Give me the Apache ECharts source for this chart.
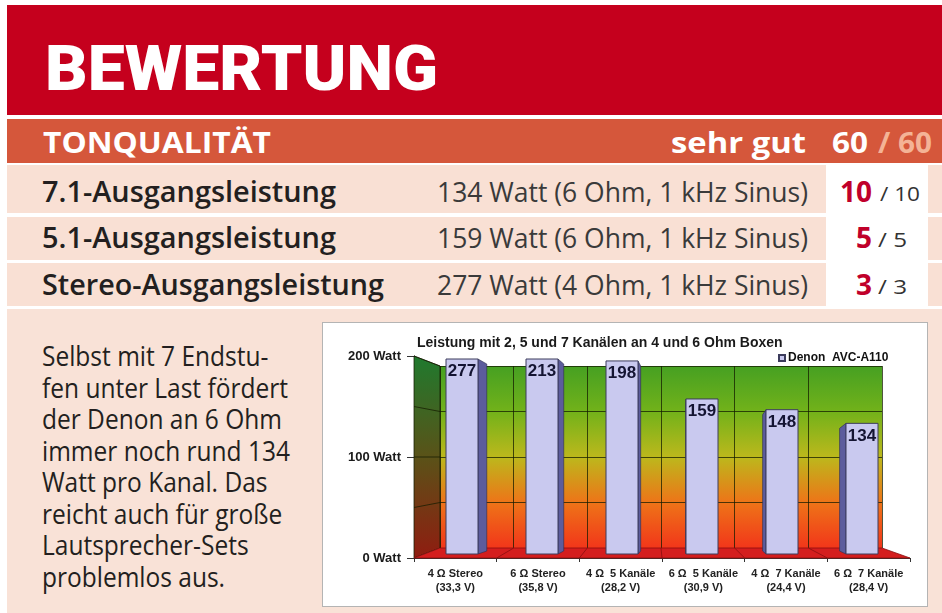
<html>
  <head>
    <meta charset="utf-8">
    <script src="https://cdn.jsdelivr.net/npm/echarts@6.0.0/dist/echarts.min.js"></script>
    <style>
      body { margin: 0; width: 942px; height: 613px; background: #fff; position: relative; overflow: hidden;
             font-family: "Open Sans", sans-serif; }
      .box { position: absolute; }
      .t { position: absolute; white-space: nowrap; line-height: 1; transform-origin: left top; }
      .head { left: 7px; top: 5px; width: 935px; height: 110px; background: #c5001d; }
      .band { left: 7px; top: 119px; width: 935px; height: 44px; background: #d5573b; }
      .row { left: 7px; width: 935px; background: #f9e0d4; }
      .score { left: 826px; width: 102px; background: #fff; }
      .bottom { left: 7px; top: 309px; width: 935px; height: 304px; background: #f9e2d7; }
      .lbl { font-size: 28px; font-weight: 600; color: #231f20; }
      .val { font-size: 27px; font-weight: 400; color: #3a3a3a; }
      .big { font-size: 28px; font-weight: 700; color: #c0002a; }
      .small { font-size: 20px; font-weight: 400; color: #333; }
      .chart { position: absolute; left: 322px; top: 322px; width: 606px; height: 285px;
               background: #fff; border: 1px solid #b4b4b4; box-sizing: border-box; }
      #text { left: 42px; top: 340px; font-size: 28px; line-height: 31.5px; color: #231f20; white-space: nowrap; }
    </style>
  </head>
  <body>
    <div class="box head"></div>
    <div class="t" data-w="393" style="left:45px; top:37px; font-family:Roboto; font-weight:900; font-size:63px; color:#fff;">BEWERTUNG</div>

    <div class="box band"></div>
    <div class="t" data-w="228" style="left:43px; top:127px; font-size:29px; font-weight:700; color:#fff;">TONQUALITÄT</div>
    <div class="t" data-w="135" style="left:671px; top:127px; font-size:29px; font-weight:700; color:#fff;">sehr gut</div>
    <div class="t" data-w="36" style="left:832px; top:127px; font-size:29px; font-weight:700; color:#fff;">60</div>
    <div class="t" data-w="54" style="left:878px; top:127px; font-size:29px; font-weight:700; color:#f4b396;">/ 60</div>

    <div class="box row" style="top:165px; height:48px;"></div>
    <div class="box row" style="top:217px; height:43px;"></div>
    <div class="box row" style="top:263px; height:43px;"></div>
    <div class="box score" style="top:165px; height:141px;"></div>

    <div class="t lbl" data-w="294" style="left:42px; top:177px;">7.1-Ausgangsleistung</div>
    <div class="t lbl" data-w="294" style="left:42px; top:223px;">5.1-Ausgangsleistung</div>
    <div class="t lbl" data-w="342" style="left:42px; top:270px;">Stereo-Ausgangsleistung</div>

    <div class="t val" data-w="371" style="left:437px; top:178px;">134 Watt (6 Ohm, 1 kHz Sinus)</div>
    <div class="t val" data-w="371" style="left:437px; top:224px;">159 Watt (6 Ohm, 1 kHz Sinus)</div>
    <div class="t val" data-w="371" style="left:437px; top:271px;">277 Watt (4 Ohm, 1 kHz Sinus)</div>

    <div class="t big" data-w="32" style="left:840px; top:177px;">10</div>
    <div class="t small" data-w="40" style="left:880px; top:184px;">/ 10</div>
    <div class="t big" data-w="16" style="left:856px; top:223px;">5</div>
    <div class="t small" data-w="29" style="left:878px; top:230px;">/ 5</div>
    <div class="t big" data-w="16" style="left:856px; top:270px;">3</div>
    <div class="t small" data-w="29" style="left:878px; top:277px;">/ 3</div>

    <div class="box bottom"></div>
    <div class="t" id="text" data-w="248">Selbst mit 7 Endstu-<br>fen unter Last fördert<br>der Denon an 6 Ohm<br>immer noch rund 134<br>Watt pro Kanal. Das<br>reicht auch für große<br>Lautsprecher-Sets<br>problemlos aus.</div>

    <div class="chart" id="leistung"></div>
  </body>
  <script>
    // chart data
    var chartTitle = 'Leistung mit 2, 5 und 7 Kanälen an 4 und 6 Ohm Boxen';
    var seriesName = 'Denon  AVC-A110';
    var categories = ['4 Ω Stereo', '6 Ω Stereo', '4 Ω  5 Kanäle', '6 Ω  5 Kanäle', '4 Ω  7 Kanäle', '6 Ω  7 Kanäle'];
    var voltages = ['(33,3 V)', '(35,8 V)', '(28,2 V)', '(30,9 V)', '(24,4 V)', '(28,4 V)'];
    var watts = [277, 213, 198, 159, 148, 134];
    var yMax = 200;

    // squeeze the text boxes to the widths of the printed page
    var fits = document.querySelectorAll('[data-w]');
    for (var i = 0; i < fits.length; i++) {
        var el = fits[i];
        el.style.display = 'inline-block';
        var w = el.getBoundingClientRect().width;
        el.style.transform = 'scaleX(' + (Number(el.dataset.w) / w) + ')';
    }

    // three grids: back wall, front plane (labels), middle plane (bars)
    var back = { left: 117, top: 43, width: 442, height: 182 };
    var front = { left: 91, top: 33, width: 496, height: 202 };
    var mid = { left: 99, top: 36, width: 480, height: 195 };
    var vpX = 370;   // where the bar side faces vanish
    var gridColor = 'rgba(20,28,0,0.75)';
    var axisFont = 'Liberation Sans';

    var wallGrad = new echarts.graphic.LinearGradient(0, 0, 0, 1, [
        { offset: 0, color: '#46a022' },
        { offset: 0.25, color: '#72b21a' },
        { offset: 0.5, color: '#bcb81c' },
        { offset: 0.75, color: '#ee7418' },
        { offset: 1, color: '#f2361a' }
    ]);

    function renderBar(params, api) {
        var base = api.coord([api.value(0), 0]);
        var top = api.coord([api.value(0), Math.min(api.value(1), yMax)]);
        var w = api.size([1, 0])[0] * 0.4;
        var cx = base[0];
        var dx = (vpX - cx) * 0.038;
        var edge = dx > 0 ? cx + w / 2 : cx - w / 2;
        return {
            type: 'group',
            children: [
                { type: 'polygon',
                  shape: { points: [[edge, top[1]], [edge + dx, top[1] + 5], [edge + dx, base[1] - 3], [edge, base[1]]] },
                  style: { fill: '#5c5c9c', stroke: '#2e2e4e', lineWidth: 0.6 } },
                { type: 'rect',
                  shape: { x: cx - w / 2, y: top[1], width: w, height: base[1] - top[1] },
                  style: { fill: '#c9c9ef', stroke: '#3c3c5c', lineWidth: 1 } },
                { type: 'text', x: cx, y: top[1] + 4,
                  style: { text: String(api.value(1)), fill: '#141432', font: 'bold 17px "Liberation Sans"',
                           align: 'center', verticalAlign: 'top' } }
            ]
        };
    }

    var chart = echarts.init(document.getElementById('leistung'));
    var option = {
        animation: false,
        title: {
            text: chartTitle, left: 89, top: 8,
            textStyle: { fontFamily: axisFont, fontSize: 14, fontWeight: 'bold', color: '#1a1a1a' }
        },
        legend: {
            data: [seriesName], left: 455, top: 29, padding: 0,
            icon: 'rect', itemWidth: 6, itemHeight: 6, itemGap: 3,
            textStyle: { fontFamily: axisFont, fontSize: 12, fontWeight: 'bold', color: '#111', padding: [0, 0, 0, -2] }
        },
        grid: [
            Object.assign({ show: true, backgroundColor: wallGrad, borderWidth: 0 }, back),
            front,
            mid
        ],
        xAxis: [
            { type: 'category', gridIndex: 0, data: categories,
              axisLine: { show: false }, axisTick: { show: false }, axisLabel: { show: false },
              splitLine: { show: true, interval: 0, lineStyle: { color: gridColor, width: 1 } } },
            { type: 'category', gridIndex: 1, data: categories,
              axisLine: { show: true, lineStyle: { color: '#333', width: 1 } },
              axisTick: { show: true, length: 4, lineStyle: { color: '#333' } },
              axisLabel: {
                  interval: 0, margin: 9, lineHeight: 14, color: '#222',
                  fontFamily: axisFont, fontSize: 11, fontWeight: 'bold',
                  formatter: function (v, i) { return v + '\n' + voltages[i]; }
              } },
            { type: 'category', gridIndex: 2, data: categories, show: false }
        ],
        yAxis: [
            { type: 'value', gridIndex: 0, min: 0, max: yMax, interval: 50,
              axisLine: { show: false }, axisTick: { show: false }, axisLabel: { show: false },
              splitLine: { show: true, lineStyle: { color: gridColor, width: 1 } } },
            { type: 'value', gridIndex: 1, min: 0, max: yMax, interval: 100,
              axisLine: { show: true, lineStyle: { color: '#333', width: 1 } },
              axisTick: { show: true, length: 7, lineStyle: { color: '#333' } },
              splitLine: { show: false },
              axisLabel: { margin: 13, color: '#1a1a1a', fontFamily: axisFont, fontSize: 13, fontWeight: 'bold',
                           formatter: function (v) { return v + ' Watt'; } } },
            { type: 'value', gridIndex: 2, min: 0, max: yMax, show: false, splitLine: { show: false } }
        ],
        series: [{
            type: 'custom', name: seriesName, xAxisIndex: 2, yAxisIndex: 2,
            itemStyle: { color: '#c9c9ef', borderColor: '#3c3c5c', borderWidth: 1 },
            renderItem: renderBar,
            data: watts.map(function (v, i) { return [i, v]; }),
            z: 5
        }]
    };
    chart.setOption(option);

    // left wall and floor of the 3d box, from the grid corners and the two value axes
    var fl = front.left, ft = front.top, fr = front.left + front.width, fb = front.top + front.height;
    var bl = back.left, bt = back.top, br = back.left + back.width, bb = back.top + back.height;
    var gfx = [
        { type: 'polygon', z: 1,
          shape: { points: [[fl, ft], [bl, bt], [bl, bb], [fl, fb]] },
          style: { fill: new echarts.graphic.LinearGradient(0, 0, 0, 1, [
              { offset: 0, color: '#1f7a2e' }, { offset: 0.5, color: '#5a5218' }, { offset: 1, color: '#901c10' }]),
              stroke: gridColor, lineWidth: 1 } },
        { type: 'polygon', z: 1,
          shape: { points: [[fl, fb], [bl, bb], [br, bb], [fr, fb]] },
          style: { fill: '#d41e1e', stroke: '#8a0e0e', lineWidth: 0.8 } }
    ];
    [50, 100, 150, 200].forEach(function (v) {
        var yf = chart.convertToPixel({ yAxisIndex: 1 }, v);
        var yb = chart.convertToPixel({ yAxisIndex: 0 }, v);
        gfx.push({ type: 'line', z: 1, shape: { x1: fl, y1: yf, x2: bl, y2: yb },
                   style: { stroke: gridColor, lineWidth: 1 } });
    });
    for (var k = 1; k < categories.length; k++) {
        gfx.push({ type: 'line', z: 1,
                   shape: { x1: fl + k * front.width / categories.length, y1: fb,
                            x2: bl + k * back.width / categories.length, y2: bb },
                   style: { stroke: '#8a0e0e', lineWidth: 0.8 } });
    }
    chart.setOption({ graphic: gfx });
  </script>
</html>
